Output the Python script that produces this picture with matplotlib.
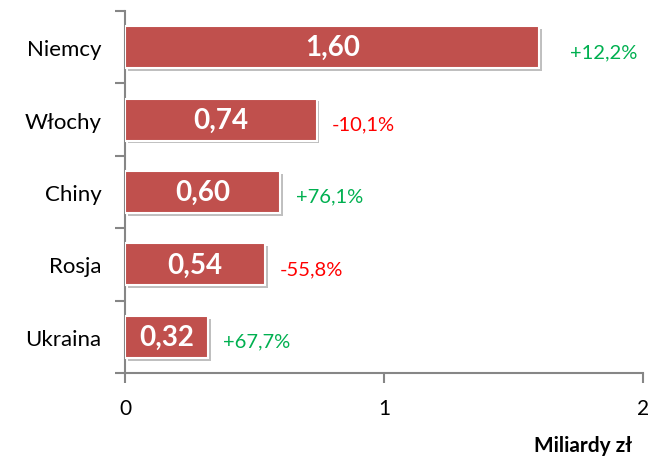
import numpy as np
import matplotlib.pyplot as plt
import matplotlib.patheffects as pe

countries = ['Niemcy', 'Włochy', 'Chiny', 'Rosja', 'Ukraina']
values = [1.60, 0.74, 0.60, 0.54, 0.32]
changes = ['+12,2%', '-10,1%', '+76,1%', '-55,8%', '+67,7%']

plt.rcParams['font.family'] = ['Lato', 'DejaVu Sans']

bar_color = '#C0504D'
axis_gray = '#868686'

fig = plt.figure(figsize=(6.52, 4.64), dpi=100)
ax = fig.add_axes([0.1917, 0.194, 0.7945, 0.780])

y = np.arange(len(countries))[::-1]
bars = ax.barh(y, values, height=0.58, color=bar_color, edgecolor='white', linewidth=1.5,
               zorder=3)
for b in bars:
    b.set_path_effects([pe.SimplePatchShadow(offset=(2, -2), shadow_rgbFace='#000000', alpha=0.25),
                        pe.Normal()])

for yi, v, ch in zip(y, values, changes):
    ax.text(v / 2, yi, f'{v:.2f}'.replace('.', ','), ha='center', va='center',
            color='white', fontsize=20, fontweight='bold', zorder=4)
    col = '#00B050' if ch.startswith('+') else '#FF0000'
    off = 22 if v > 1.5 else 11
    ax.annotate(ch, (v, yi), xytext=(off, -3), textcoords='offset points',
                ha='left', va='center', color=col, fontsize=14.5)

ax.set_xlim(0, 2)
ax.set_ylim(-0.5, 4.5)
ax.set_xticks([0, 1, 2])
ax.set_xticklabels(['0', '1', '2'])
ax.set_yticks(y)
ax.set_yticklabels(countries)
ax.set_yticks(np.arange(-0.5, 5, 1), minor=True)
ax.tick_params(axis='y', which='major', length=0, pad=17, labelsize=16)
ax.tick_params(axis='y', which='minor', length=7, width=1.5, color=axis_gray, direction='out')
ax.tick_params(axis='x', which='major', length=7, width=1.5, color=axis_gray, pad=11,
               labelsize=15)

for s in ['top', 'right']:
    ax.spines[s].set_visible(False)
for s in ['left', 'bottom']:
    ax.spines[s].set_color(axis_gray)
    ax.spines[s].set_linewidth(1.5)

fig.text(0.97, 0.018, 'Miliardy zł', ha='right', va='bottom', fontsize=15,
         fontweight='bold')

fig.savefig('out.png', dpi=100)
